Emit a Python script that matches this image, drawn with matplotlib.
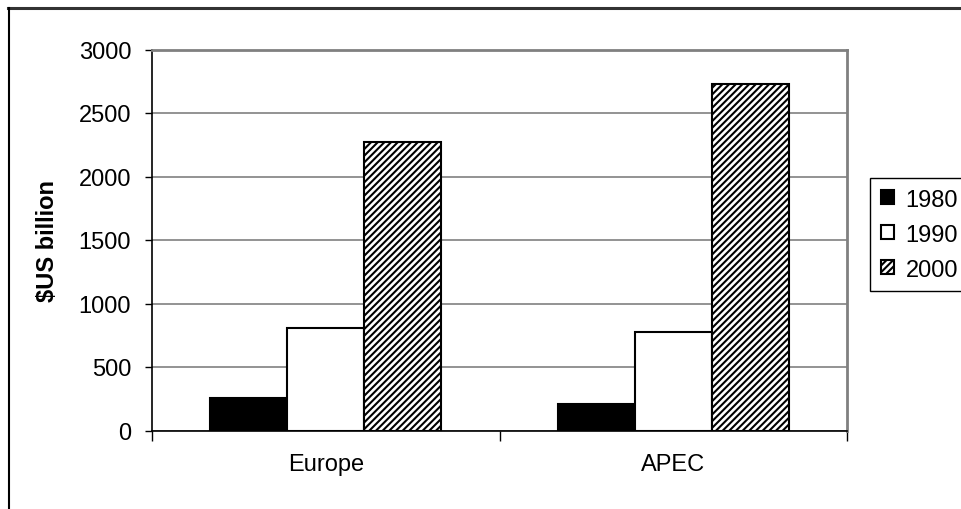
import numpy as np
import matplotlib
matplotlib.use('Agg')
import matplotlib.pyplot as plt
from matplotlib.lines import Line2D

plt.rcParams['font.family'] = ['Liberation Sans', 'DejaVu Sans']
plt.rcParams['hatch.linewidth'] = 1.5

# ============= Data =============
regions = ['Europe', 'APEC']
years = ['1980', '1990', '2000']
vals_1980 = [258, 210]
vals_1990 = [805, 775]
vals_2000 = [2270, 2730]

fs = 17

fig = plt.figure(figsize=(9.61, 5.10), dpi=100)
ax = fig.add_axes([152 / 961, 1 - 431.5 / 510, 695 / 961, 381 / 510])

x = np.arange(len(regions))
w = 0.222
series = [vals_1980, vals_1990, vals_2000]
styles = [dict(color='black', edgecolor='black'),
          dict(color='white', edgecolor='black'),
          dict(color='white', edgecolor='black', hatch='/////')]
for i, (vals, st) in enumerate(zip(series, styles)):
    ax.bar(x + (i - 1) * w, vals, w, linewidth=1.5, label=years[i], zorder=3, **st)

ax.set_xlim(-0.5, 1.5)
ax.set_ylim(0, 3000)
ax.set_yticks(np.arange(0, 3001, 500))
ax.yaxis.grid(True, color='#808080', lw=1.2, zorder=0)

# category labels sit between the boundary ticks
ax.set_xticks([-0.5, 0.5, 1.5])
ax.set_xticklabels([])
ax.set_xticks(x, minor=True)
ax.set_xticklabels(regions, minor=True, fontsize=fs)
ax.tick_params(axis='x', which='major', direction='out', length=7, width=1)
ax.tick_params(axis='x', which='minor', length=0, pad=16)
ax.tick_params(axis='y', direction='out', length=5, width=1, labelsize=fs, pad=10)

for s in ['top', 'right']:
    ax.spines[s].set_color('#808080')
    ax.spines[s].set_linewidth(2)
for s in ['left', 'bottom']:
    ax.spines[s].set_color('black')
    ax.spines[s].set_linewidth(1.2)

ax.set_ylabel('$US billion', fontsize=fs, fontweight='bold', labelpad=14)

leg = fig.legend(loc='upper left', bbox_to_anchor=(870 / 961, 1 - 179 / 510),
                 fontsize=fs, frameon=True, fancybox=False, framealpha=1,
                 edgecolor='black', handlelength=0.55, handleheight=0.55,
                 handletextpad=0.5, labelspacing=0.55, borderpad=0.45,
                 borderaxespad=0)
leg.get_frame().set_linewidth(1)

# outer chart frame (only top and left are visible)
fig.add_artist(Line2D([8 / 961, 1], [1 - 8.5 / 510, 1 - 8.5 / 510], color='#333333', lw=2.2))
fig.add_artist(Line2D([8.7 / 961, 8.7 / 961], [0, 1 - 8.5 / 510], color='black', lw=1.5))

plt.savefig('out.png', dpi=100)
